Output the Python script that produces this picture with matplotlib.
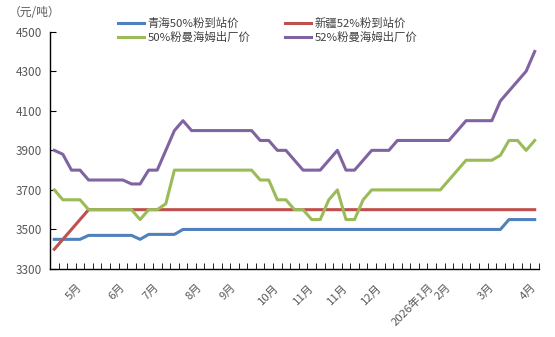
import numpy as np
import matplotlib.pyplot as plt

plt.rcParams['font.family'] = ['Noto Sans CJK SC', 'DejaVu Sans']

# weekly series, 57 points
qinghai_50 = [3450, 3450, 3450, 3450, 3470, 3470, 3470, 3470, 3470, 3470,
              3450, 3475, 3475, 3475, 3475, 3500, 3500, 3500, 3500, 3500,
              3500, 3500, 3500, 3500, 3500, 3500, 3500, 3500, 3500, 3500,
              3500, 3500, 3500, 3500, 3500, 3500, 3500, 3500, 3500, 3500,
              3500, 3500, 3500, 3500, 3500, 3500, 3500, 3500, 3500, 3500,
              3500, 3500, 3500, 3550, 3550, 3550, 3550]
xinjiang_52 = [3400, 3450, 3500, 3550] + [3600] * 53
mhm_50 = [3700, 3650, 3650, 3650, 3600, 3600, 3600, 3600, 3600, 3600,
          3550, 3600, 3600, 3630, 3800, 3800, 3800, 3800, 3800, 3800,
          3800, 3800, 3800, 3800, 3750, 3750, 3650, 3650, 3600, 3600,
          3550, 3550, 3650, 3700, 3550, 3550, 3650, 3700, 3700, 3700,
          3700, 3700, 3700, 3700, 3700, 3700, 3750, 3800, 3850, 3850,
          3850, 3850, 3875, 3950, 3950, 3900, 3950]
mhm_52 = [3900, 3880, 3800, 3800, 3750, 3750, 3750, 3750, 3750, 3730,
          3730, 3800, 3800, 3900, 4000, 4050, 4000, 4000, 4000, 4000,
          4000, 4000, 4000, 4000, 3950, 3950, 3900, 3900, 3850, 3800,
          3800, 3800, 3850, 3900, 3800, 3800, 3850, 3900, 3900, 3900,
          3950, 3950, 3950, 3950, 3950, 3950, 3950, 4000, 4050, 4050,
          4050, 4050, 4150, 4200, 4250, 4300, 4400]

label_idx = [3, 8, 12, 17, 21, 26, 30, 34, 38, 44, 46, 51, 56]
label_txt = ['5月', '6月', '7月', '8月', '9月', '10月', '11月', '11月', '12月',
             '2026年1月', '2月', '3月', '4月']

x = np.arange(len(mhm_52))

fig = plt.figure(figsize=(5.55, 3.37), dpi=100)
ax = fig.add_axes([50/555, 1-269/337, 489/555, (269-31.7)/337])

lw = 2.2
l1, = ax.plot(x, qinghai_50, color='#4F81BD', lw=lw, label='青海50%粉到站价')
l2, = ax.plot(x, xinjiang_52, color='#C0504D', lw=lw, label='新疆52%粉到站价')
l3, = ax.plot(x, mhm_50, color='#9BBB59', lw=lw, label='50%粉曼海姆出厂价')
l4, = ax.plot(x, mhm_52, color='#8064A2', lw=lw, label='52%粉曼海姆出厂价')

ax.set_xlim(-0.5, len(x) - 0.5)
ax.set_ylim(3300, 4500)
ax.set_yticks(np.arange(3300, 4501, 200))
ax.tick_params(axis='y', direction='in', length=4, labelsize=8.5,
               labelcolor='#595959', pad=6)

ax.set_xticks(label_idx)
ax.set_xticklabels(label_txt, rotation=45, ha='right', va='center',
                   rotation_mode='anchor', fontsize=8.2, color='#595959')
ax.set_xticks(np.arange(0.5, len(x), 1), minor=True)
ax.tick_params(axis='x', which='major', length=0, pad=12)
ax.tick_params(axis='x', which='minor', direction='in', length=4)

for s in ['top', 'right']:
    ax.spines[s].set_visible(False)
for s in ['left', 'bottom']:
    ax.spines[s].set_linewidth(1)

fig.text(9/555, 1-13/337, '（元/吨）', fontsize=8.5, color='#595959',
         va='center', ha='left')

fig.legend([l1, l3, l2, l4], [l1.get_label(), l3.get_label(), l2.get_label(), l4.get_label()],
           ncol=2, frameon=False, fontsize=8.2, loc='center left',
           bbox_to_anchor=(118/555, 1-30/337), borderaxespad=0, borderpad=0,
           handlelength=2.3, columnspacing=3.0, labelspacing=0.25,
           handletextpad=0.3, labelcolor='#404040')

fig.savefig('out.png', dpi=100)
